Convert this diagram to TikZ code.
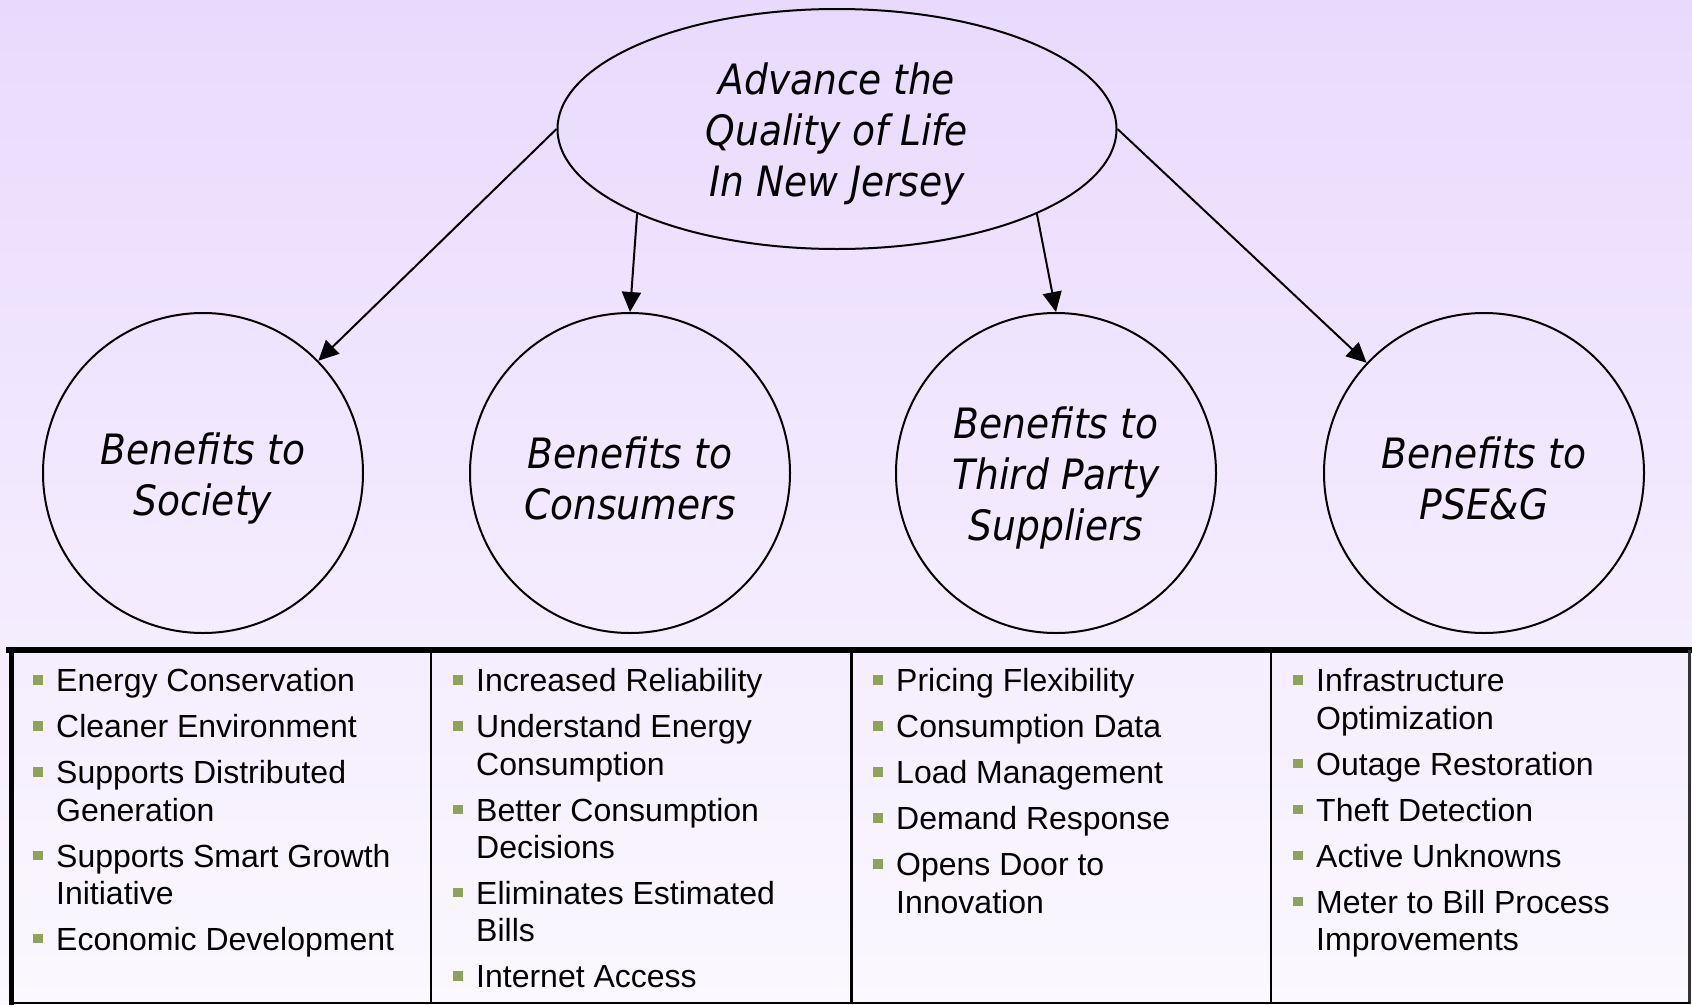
\documentclass[tikz,border=0pt]{standalone}
\usepackage{fontspec}
\setmainfont{Liberation Sans}
\newfontfamily\headfont{DejaVu Sans Condensed}
\usetikzlibrary{shapes.geometric,arrows.meta}

\definecolor{bgtop}{RGB}{233,218,253}
\definecolor{bgbottom}{RGB}{251,248,255}
\definecolor{bulletgreen}{RGB}{141,163,89}

% green square bullet hung to the left of an item's first line
\newcommand{\bul}{\llap{\textcolor{bulletgreen}{\rule[7pt]{9.5pt}{9.5pt}}\hspace{13.5pt}}}
\newcommand{\gap}{\\[8.7pt]}
% taller first line so heading blocks sit a little lower in their shapes
\newcommand{\hstrut}{\rule{0pt}{42pt}}

\tikzset{
  headtext/.style={font=\headfont\itshape\fontsize{41.8}{51}\selectfont, align=center},
  goal/.style={ellipse, draw, line width=2pt, minimum width=559pt, minimum height=240pt, inner sep=0pt, headtext},
  benefit/.style={circle, draw, line width=2pt, minimum size=320pt, inner sep=0pt, headtext},
  link/.style={line width=2pt, -{Triangle[length=20pt,width=19pt]}},
  itemcol/.style={anchor=north west, inner sep=0pt, align=left, font=\fontsize{32}{37.3}\selectfont},
  frame/.style={line width=#1, line cap=rect}
}

\begin{document}
\begin{tikzpicture}[x=1pt, y=-1pt]
  \useasboundingbox (0,0) rectangle (1692,1004);
  \shade[top color=bgtop, bottom color=bgbottom] (0,0) rectangle (1692,1004);

  % goal and the four benefit groups
  \node[goal] (top) at (837,129) {\hstrut Advance the\\Quality of Life\\In New Jersey};
  \node[benefit] (soc) at (203,473) {\hstrut Benefits to\\Society};
  \node[benefit] (con) at (630,473) {\hstrut Benefits to\\Consumers};
  \node[benefit] (tps) at (1056,473) {\hstrut Benefits to\\Third Party\\Suppliers};
  \node[benefit] (pse) at (1484,473) {\hstrut Benefits to\\PSE\&G};

  \draw[link] (top.west) -- (soc);
  \draw[link] (top.203) -- (con.north);
  \draw[link] (top.337) -- (tps.north);
  \draw[link] (top.east) -- (pse);

  % table frame
  \draw[frame=6pt] (9,650) -- (1689,650);
  \draw[frame=5pt] (11.5,650) -- (11.5,1004);
  \draw[line width=2.5pt] (431,650) -- (431,1004);
  \draw[line width=2.5pt] (851.5,650) -- (851.5,1004);
  \draw[line width=2.5pt] (1271,650) -- (1271,1004);
  \draw[line width=3pt, black!80] (1689,650) -- (1689,1004);
  \draw[line width=2pt] (11.5,1003) -- (1690,1003);

  % bullet lists
  \node[itemcol] (list1) at (56,666.5) {\rule{0pt}{25pt}\bul Energy Conservation\gap
    \bul Cleaner Environment\gap
    \bul Supports Distributed\\Generation\gap
    \bul Supports Smart Growth\\Initiative\gap
    \bul Economic Development};
  \node[itemcol] (list2) at (476,666.5) {\rule{0pt}{25pt}\bul Increased Reliability\gap
    \bul Understand Energy\\Consumption\gap
    \bul Better Consumption\\Decisions\gap
    \bul Eliminates Estimated\\Bills\gap
    \bul Internet Access};
  \node[itemcol] (list3) at (896,666.5) {\rule{0pt}{25pt}\bul Pricing Flexibility\gap
    \bul Consumption Data\gap
    \bul Load Management\gap
    \bul Demand Response\gap
    \bul Opens Door to\\Innovation};
  \node[itemcol] (list4) at (1316,666.5) {\rule{0pt}{25pt}\bul Infrastructure\\Optimization\gap
    \bul Outage Restoration\gap
    \bul Theft Detection\gap
    \bul Active Unknowns\gap
    \bul Meter to Bill Process\\Improvements};
\end{tikzpicture}
\end{document}
